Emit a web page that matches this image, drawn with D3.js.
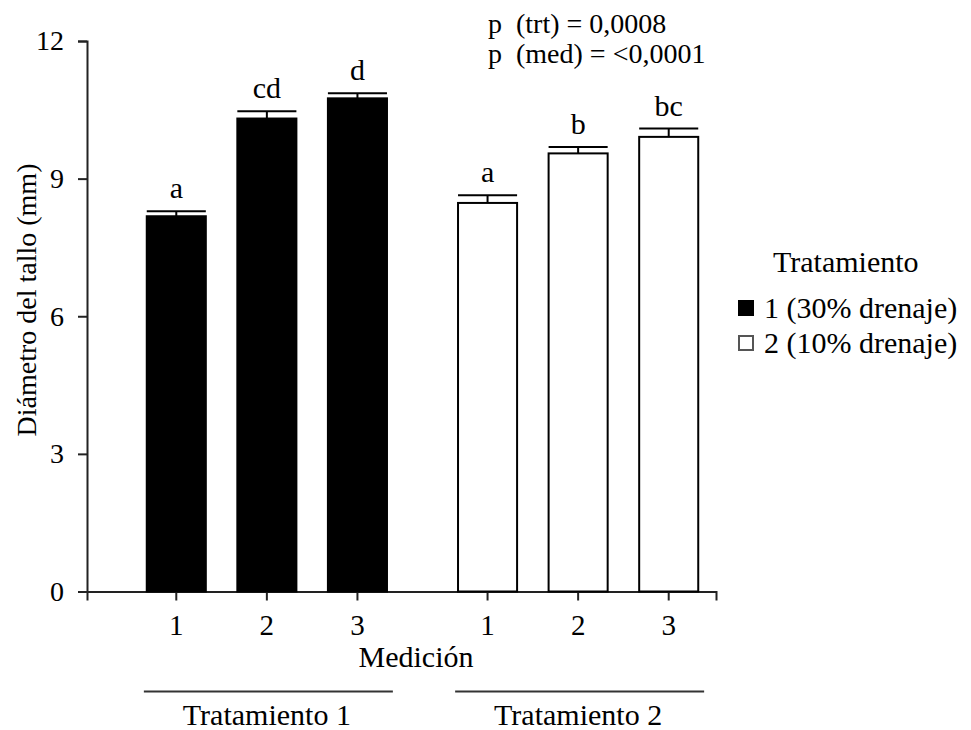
<!DOCTYPE html>
<html>
<head>
<meta charset="utf-8">
<script src="https://cdn.jsdelivr.net/npm/d3@7"></script>
<style>
  body { margin: 0; background: #fff; }
</style>
</head>
<body>
<svg id="canvas"></svg>
<script>
const width = 971;
const height = 730;
const serif = "'Liberation Serif', 'DejaVu Serif', 'Noto Serif', Tinos, 'Times New Roman', Times, serif";

// data
const groups = ['Tratamiento 1', 'Tratamiento 2'];
const mediciones = ['1', '2', '3'];
const means1 = [8.18, 10.31, 10.75];
const means2 = [8.47, 9.55, 9.91];
const errors1 = [0.11, 0.16, 0.11];
const errors2 = [0.17, 0.14, 0.18];
const letters1 = ['a', 'cd', 'd'];
const letters2 = ['a', 'b', 'bc'];
const yTicks = [0, 3, 6, 9, 12];
const legendLabels = ['1 (30% drenaje)', '2 (10% drenaje)'];
const pLines = ['p  (trt) = 0,0008', 'p  (med) = <0,0001'];
const fills = ['#000', '#fff'];

const rows = [];
[means1, means2].forEach((means, g) => {
  means.forEach((m, i) => {
    rows.push({
      group: groups[g],
      med: mediciones[i],
      mean: m,
      err: [errors1, errors2][g][i],
      letter: [letters1, letters2][g][i],
      fill: fills[g],
    });
  });
});

const canvas = d3.select('#canvas')
  .attr('width', width)
  .attr('height', height)
  .style('background-color', 'white');

// scales
const y = d3.scaleLinear().domain([0, 12]).range([591.5, 41]);
const x0 = d3.scaleBand().domain(groups).range([131, 714]).paddingInner(0.127);
const x1 = d3.scaleBand().domain(mediciones).range([0, x0.bandwidth()])
  .paddingInner(0.348).paddingOuter(0.174);

// y axis
const yAxis = d3.axisLeft(y).tickValues(yTicks).tickSize(9).tickPadding(14);
const gy = canvas.append('g')
  .attr('transform', 'translate(87,0)')
  .call(yAxis);
gy.select('.domain').attr('stroke', '#222').attr('stroke-width', 2);
gy.selectAll('.tick line').attr('stroke', '#222').attr('stroke-width', 2);
gy.selectAll('.tick text').style('font-size', '28px');

// x axis line with end ticks
const xLine = d3.scaleLinear().domain([0, 1]).range([87, 716]);
const gx = canvas.append('g')
  .attr('transform', `translate(0,${y(0)})`)
  .call(d3.axisBottom(xLine).tickValues([]).tickSizeOuter(9));
gx.select('.domain').attr('stroke', '#222').attr('stroke-width', 2);

// per-group tick marks for Medición
groups.forEach((g) => {
  const ga = canvas.append('g')
    .attr('transform', `translate(${x0(g)},${y(0)})`)
    .call(d3.axisBottom(x1).tickSize(9).tickSizeOuter(0).tickPadding(14));
  ga.select('.domain').remove();
  ga.selectAll('.tick line').attr('stroke', '#222').attr('stroke-width', 2);
  ga.selectAll('.tick text').style('font-size', '29px');
});

// bars
canvas.append('g').selectAll('rect')
  .data(rows)
  .enter()
  .append('rect')
  .attr('x', (d) => x0(d.group) + x1(d.med))
  .attr('y', (d) => y(d.mean))
  .attr('width', x1.bandwidth())
  .attr('height', (d) => y(0) - y(d.mean))
  .attr('fill', (d) => d.fill)
  .attr('stroke', '#000')
  .attr('stroke-width', 2);

// error bars (upper only)
const eb = canvas.append('g').attr('stroke', '#000').attr('stroke-width', 2);
eb.selectAll('line.v')
  .data(rows)
  .enter()
  .append('line')
  .attr('class', 'v')
  .attr('x1', (d) => x0(d.group) + x1(d.med) + x1.bandwidth() / 2)
  .attr('x2', (d) => x0(d.group) + x1(d.med) + x1.bandwidth() / 2)
  .attr('y1', (d) => y(d.mean))
  .attr('y2', (d) => y(d.mean + d.err));
eb.selectAll('line.cap')
  .data(rows)
  .enter()
  .append('line')
  .attr('class', 'cap')
  .attr('x1', (d) => x0(d.group) + x1(d.med))
  .attr('x2', (d) => x0(d.group) + x1(d.med) + x1.bandwidth())
  .attr('y1', (d) => y(d.mean + d.err))
  .attr('y2', (d) => y(d.mean + d.err));

// significance letters
canvas.append('g').selectAll('text')
  .data(rows)
  .enter()
  .append('text')
  .attr('x', (d) => x0(d.group) + x1(d.med) + x1.bandwidth() / 2)
  .attr('y', (d) => y(d.mean + d.err) - 13)
  .attr('text-anchor', 'middle')
  .style('font-size', '30px')
  .text((d) => d.letter);

// p values
canvas.append('g').selectAll('text')
  .data(pLines)
  .enter()
  .append('text')
  .attr('x', 488)
  .attr('y', (d, i) => 33 + i * 30)
  .style('font-size', '28px')
  .style('white-space', 'pre')
  .text((d) => d);

// axis titles
canvas.append('text')
  .attr('transform', 'translate(36,300) rotate(-90)')
  .attr('text-anchor', 'middle')
  .style('font-size', '28px')
  .text('Diámetro del tallo (mm)');

canvas.append('text')
  .attr('x', 416)
  .attr('y', 667)
  .attr('text-anchor', 'middle')
  .style('font-size', '30px')
  .text('Medición');

// group lines and labels
groups.forEach((g) => {
  const cx = x0(g) + x0.bandwidth() / 2;
  canvas.append('line')
    .attr('x1', cx - 123)
    .attr('x2', cx + 126)
    .attr('y1', 691.5)
    .attr('y2', 691.5)
    .attr('stroke', '#333')
    .attr('stroke-width', 2);
  canvas.append('text')
    .attr('x', cx)
    .attr('y', 725)
    .attr('text-anchor', 'middle')
    .style('font-size', '30px')
    .text(g);
});

// legend
canvas.append('text')
  .attr('x', 773)
  .attr('y', 272)
  .style('font-size', '30px')
  .text('Tratamiento');

const legend = canvas.append('g').selectAll('g')
  .data(legendLabels)
  .enter()
  .append('g')
  .attr('transform', (d, i) => `translate(0,${318 + i * 35})`);
legend.append('rect')
  .attr('x', 739)
  .attr('y', -17)
  .attr('width', 14)
  .attr('height', 14)
  .attr('fill', (d, i) => fills[i])
  .attr('stroke', (d, i) => (i === 0 ? '#000' : '#555'))
  .attr('stroke-width', 2);
legend.append('text')
  .attr('x', 764)
  .attr('y', 0)
  .style('font-size', '30px')
  .text((d) => d);

// same serif face on every text
canvas.selectAll('text')
  .style('font-family', serif)
  .attr('fill', '#000');
</script>
</body>
</html>
